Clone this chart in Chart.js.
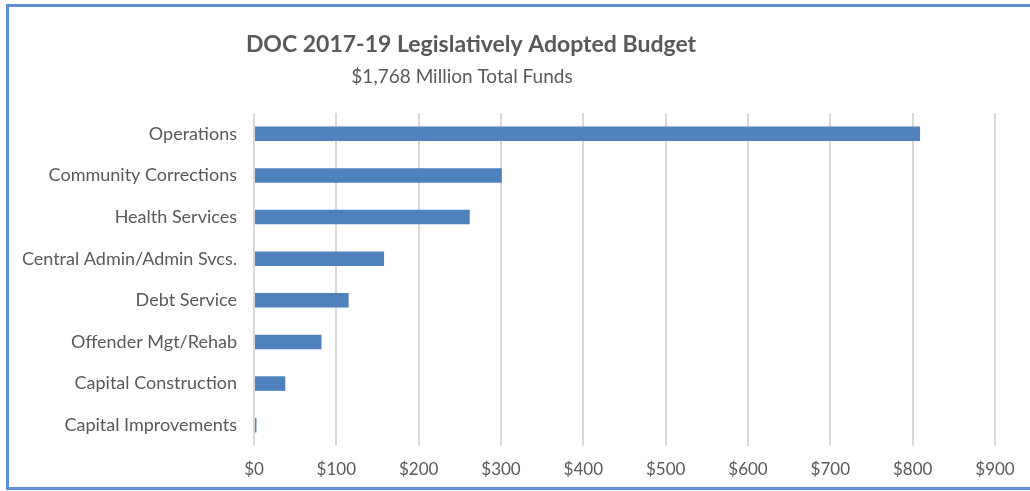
<!DOCTYPE html>
<html>
<head>
<meta charset="utf-8">
<script src="https://cdn.jsdelivr.net/npm/chart.js@4"></script>
<style>
  html, body { margin: 0; padding: 0; background: #fff; overflow: hidden; }
  #wrap { position: relative; width: 1030px; height: 491px; }
</style>
</head>
<body>
<div id="wrap"><canvas id="budgetChart" width="1030" height="491"></canvas></div>
<script>
const categories = ['Operations', 'Community Corrections', 'Health Services', 'Central Admin/Admin Svcs.',
    'Debt Service', 'Offender Mgt/Rehab', 'Capital Construction', 'Capital Improvements'];
const funds = [809, 301, 262, 158, 115, 82, 38, 3]; // $ millions
const tickValues = [0, 100, 200, 300, 400, 500, 600, 700, 800, 900];

const titleText = 'DOC 2017-19 Legislatively Adopted Budget';
const subtitleText = '$1,768 Million Total Funds';

const FONT = 'Lato, "Open Sans", sans-serif';
const GREY = '#595959';

// frame + heading drawn straight on the canvas
const frameAndTitle = {
    id: 'frameAndTitle',
    beforeDraw(chart) {
        const c = chart.ctx;
        c.save();
        c.fillStyle = '#fff';
        c.fillRect(0, 0, chart.width, chart.height);
        c.strokeStyle = '#5b8fd8';
        c.lineWidth = 3;
        c.beginPath();
        c.moveTo(chart.width + 5, 5.5);
        c.lineTo(7.5, 5.5);
        c.lineTo(7.5, 488.5);
        c.lineTo(chart.width + 5, 488.5);
        c.stroke();
        c.restore();
    },
    afterDraw(chart) {
        const c = chart.ctx;
        c.save();
        c.fillStyle = GREY;
        c.textAlign = 'center';
        c.textBaseline = 'alphabetic';
        c.font = 'bold 23px ' + FONT;
        c.fillText(titleText, 471, 52);
        c.font = '19px ' + FONT;
        c.fillText(subtitleText, 462, 83);
        c.restore();
    }
};

const ctx = document.getElementById('budgetChart').getContext('2d');

const budgetChart = new Chart(ctx, {
    type: 'bar',
    data: {
        labels: categories,
        datasets: [{
            label: 'Total Funds',
            data: funds,
            backgroundColor: '#4f81bd',
            borderWidth: 0,
            categoryPercentage: 1,
            barPercentage: 0.35
        }]
    },
    options: {
        indexAxis: 'y',
        responsive: false,
        animation: false,
        layout: {
            padding: { left: 0, right: 35, top: 113, bottom: 0 }
        },
        scales: {
            x: {
                min: 0,
                max: 900,
                afterBuildTicks: function(scale) {
                    scale.ticks = tickValues.map(v => ({ value: v }));
                },
                afterFit: function(scale) {
                    scale.height = 45;
                },
                grid: {
                    color: '#d9d9d9',
                    lineWidth: 2,
                    drawTicks: false
                },
                border: { display: false },
                ticks: {
                    color: GREY,
                    font: { family: FONT, size: 17 },
                    padding: 13,
                    callback: function(value) {
                        return '$' + value;
                    }
                }
            },
            y: {
                afterFit: function(scale) {
                    scale.width = 254;
                },
                grid: { display: false },
                border: { display: false },
                ticks: {
                    color: GREY,
                    font: { family: FONT, size: 18 },
                    padding: 9
                }
            }
        },
        plugins: {
            legend: { display: false },
            tooltip: { enabled: false }
        }
    },
    plugins: [frameAndTitle]
});
</script>
</body>
</html>
